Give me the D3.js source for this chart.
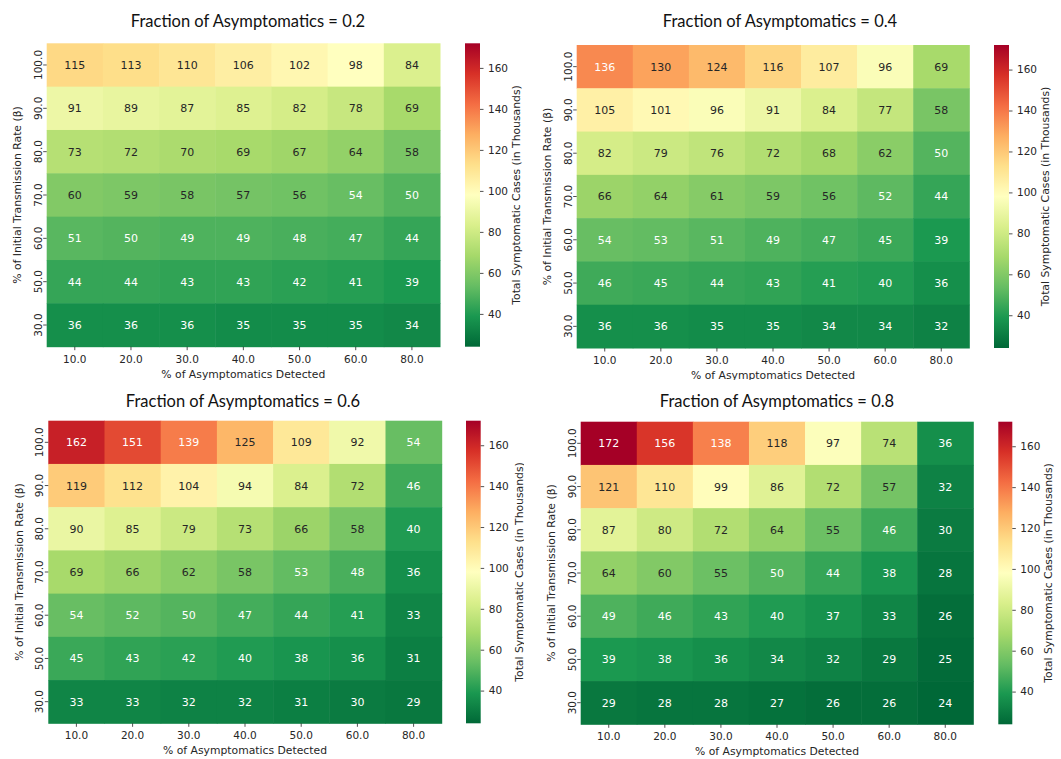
<!DOCTYPE html>
<html>
<head>
<meta charset="utf-8">
<script src="https://cdn.jsdelivr.net/npm/d3@7"></script>
<style>
  html, body { margin: 0; padding: 0; background: #fff; }
  svg { display: block; }
</style>
</head>
<body>
<svg id="chart" width="1061" height="759"></svg>
<script>
// ---------------- DATA ----------------
const detectedLabels = ["10.0", "20.0", "30.0", "40.0", "50.0", "60.0", "80.0"];
const transmissionLabels = ["100.0", "90.0", "80.0", "70.0", "60.0", "50.0", "30.0"];
const fractions = ["0.2", "0.4", "0.6", "0.8"];
const colorbarTicks = [40, 60, 80, 100, 120, 140, 160];

// rows: transmission 100 -> 30, columns: detected 10 -> 80
const casesFrac02 = [
  [115, 113, 110, 106, 102, 98, 84],
  [91, 89, 87, 85, 82, 78, 69],
  [73, 72, 70, 69, 67, 64, 58],
  [60, 59, 58, 57, 56, 54, 50],
  [51, 50, 49, 49, 48, 47, 44],
  [44, 44, 43, 43, 42, 41, 39],
  [36, 36, 36, 35, 35, 35, 34]
];
const casesFrac04 = [
  [136, 130, 124, 116, 107, 96, 69],
  [105, 101, 96, 91, 84, 77, 58],
  [82, 79, 76, 72, 68, 62, 50],
  [66, 64, 61, 59, 56, 52, 44],
  [54, 53, 51, 49, 47, 45, 39],
  [46, 45, 44, 43, 41, 40, 36],
  [36, 36, 35, 35, 34, 34, 32]
];
const casesFrac06 = [
  [162, 151, 139, 125, 109, 92, 54],
  [119, 112, 104, 94, 84, 72, 46],
  [90, 85, 79, 73, 66, 58, 40],
  [69, 66, 62, 58, 53, 48, 36],
  [54, 52, 50, 47, 44, 41, 33],
  [45, 43, 42, 40, 38, 36, 31],
  [33, 33, 32, 32, 31, 30, 29]
];
const casesFrac08 = [
  [172, 156, 138, 118, 97, 74, 36],
  [121, 110, 99, 86, 72, 57, 32],
  [87, 80, 72, 64, 55, 46, 30],
  [64, 60, 55, 50, 44, 38, 28],
  [49, 46, 43, 40, 37, 33, 26],
  [39, 38, 36, 34, 32, 29, 25],
  [29, 28, 28, 27, 26, 26, 24]
];
const allCases = [casesFrac02, casesFrac04, casesFrac06, casesFrac08];

// ---------------- LAYOUT ----------------
const panelLayout = [
  {x0: 46.7, x1: 440.0, y0: 43.3, y1: 346.7, cb0: 465.0, cb1: 480.0, tx: 248, ty: 27.3, cbl: 40, clip: [0, 0, 530, 380]},
  {x0: 576.7, x1: 969.3, y0: 45.0, y1: 348.0, cb0: 994.0, cb1: 1009.0, tx: 780, ty: 26.5, cbl: 40, clip: [530, 0, 531, 380]},
  {x0: 48.3, x1: 441.7, y0: 420.7, y1: 723.3, cb0: 466.0, cb1: 480.7, tx: 243, ty: 407.3, cbl: 42, clip: [0, 380, 524, 379]},
  {x0: 580.7, x1: 973.3, y0: 421.7, y1: 724.3, cb0: 998.3, cb1: 1012.3, tx: 777, ty: 406.7, cbl: 40, clip: [530, 380, 531, 379]}
];

const textColor = "#262626";
const tickFont = "DejaVu Sans, sans-serif";
const titleFont = "Lato, 'Open Sans', sans-serif";
const tickSizePx = 10.5, labelSizePx = 10.8, annotSizePx = 11, titleSizePx = 16.5;

// ---------------- COLOR ----------------
const allVals = allCases.flat(2);
const vmin = d3.min(allVals), vmax = d3.max(allVals);
const rdylgn = ["#a50026","#d73027","#f46d43","#fdae61","#fee08b","#ffffbf","#d9ef8b","#a6d96a","#66bd63","#1a9850","#006837"];
const cmapColors = rdylgn.slice().reverse();
const color = d3.scaleLinear()
  .domain(d3.range(cmapColors.length).map(i => vmin + i * (vmax - vmin) / (cmapColors.length - 1)))
  .range(cmapColors)
  .interpolate(d3.interpolateRgb)
  .clamp(true);

function relLum(c) {
  const rgb = d3.rgb(c);
  const f = v => { v /= 255; return v <= 0.03928 ? v / 12.92 : Math.pow((v + 0.055) / 1.055, 2.4); };
  return 0.2126 * f(rgb.r) + 0.7152 * f(rgb.g) + 0.0722 * f(rgb.b);
}

const svg = d3.select("#chart");
const defs = svg.append("defs");

// gradient for colorbar
const grad = defs.append("linearGradient").attr("id", "cbgrad")
  .attr("x1", 0).attr("y1", 1).attr("x2", 0).attr("y2", 0);
d3.range(0, 1.0001, 0.02).forEach(t => {
  grad.append("stop").attr("offset", t).attr("stop-color", color(vmin + t * (vmax - vmin)));
});

allCases.forEach((data, pi) => {
  const L = panelLayout[pi];
  defs.append("clipPath").attr("id", "clip" + pi)
    .append("rect").attr("x", L.clip[0]).attr("y", L.clip[1]).attr("width", L.clip[2]).attr("height", L.clip[3]);
  const g = svg.append("g").attr("clip-path", `url(#clip${pi})`);

  const x = d3.scaleBand().domain(detectedLabels).range([L.x0, L.x1]);
  const y = d3.scaleBand().domain(transmissionLabels).range([L.y0, L.y1]);

  const cells = [];
  data.forEach((row, ri) => row.forEach((v, ci) => cells.push({r: transmissionLabels[ri], c: detectedLabels[ci], v})));

  g.selectAll("rect.cell").data(cells).join("rect")
    .attr("class", "cell")
    .attr("x", d => x(d.c)).attr("y", d => y(d.r))
    .attr("width", x.bandwidth() + 0.5).attr("height", y.bandwidth() + 0.5)
    .attr("fill", d => color(d.v));

  g.selectAll("text.annot").data(cells).join("text")
    .attr("class", "annot")
    .attr("x", d => x(d.c) + x.bandwidth() / 2)
    .attr("y", d => y(d.r) + y.bandwidth() / 2)
    .attr("dy", "0.36em")
    .attr("text-anchor", "middle")
    .attr("font-family", tickFont).attr("font-size", annotSizePx)
    .attr("fill", d => relLum(color(d.v)) > 0.408 ? textColor : "#ffffff")
    .text(d => d.v);

  // x axis
  const xAxis = g.append("g").attr("transform", `translate(0,${L.y1})`)
    .call(d3.axisBottom(x).tickSize(3.5).tickPadding(5));
  xAxis.select(".domain").remove();
  xAxis.selectAll("line").attr("stroke", textColor).attr("stroke-width", 0.8);
  xAxis.selectAll("text").attr("font-family", tickFont).attr("font-size", tickSizePx).attr("fill", textColor);

  // y axis
  const yAxis = g.append("g").attr("transform", `translate(${L.x0},0)`)
    .call(d3.axisLeft(y).tickSize(3.5).tickFormat(""));
  yAxis.select(".domain").remove();
  yAxis.selectAll("line").attr("stroke", textColor).attr("stroke-width", 0.8);
  g.selectAll("text.ytick").data(transmissionLabels).join("text")
    .attr("class", "ytick")
    .attr("transform", d => `translate(${L.x0 - 5},${y(d) + y.bandwidth() / 2}) rotate(-90)`)
    .attr("text-anchor", "middle")
    .attr("font-family", tickFont).attr("font-size", tickSizePx).attr("fill", textColor)
    .text(d => d);

  // axis labels
  g.append("text")
    .attr("x", (L.x0 + L.x1) / 2).attr("y", L.y1 + 31)
    .attr("text-anchor", "middle")
    .attr("font-family", tickFont).attr("font-size", labelSizePx).attr("fill", textColor)
    .text("% of Asymptomatics Detected");
  g.append("text")
    .attr("transform", `translate(${L.x0 - 25.5},${(L.y0 + L.y1) / 2}) rotate(-90)`)
    .attr("text-anchor", "middle")
    .attr("font-family", tickFont).attr("font-size", labelSizePx).attr("fill", textColor)
    .text("% of Initial Transmission Rate (β)");

  // title
  g.append("text")
    .attr("x", L.tx).attr("y", L.ty)
    .attr("text-anchor", "middle")
    .attr("font-family", titleFont).attr("font-size", titleSizePx).attr("fill", "#111")
    .text("Fraction of Asymptomatics = " + fractions[pi]);

  // colorbar
  g.append("rect")
    .attr("x", L.cb0).attr("y", L.y0).attr("width", L.cb1 - L.cb0).attr("height", L.y1 - L.y0)
    .attr("fill", "url(#cbgrad)");
  const cy = d3.scaleLinear().domain([vmin, vmax]).range([L.y1, L.y0]);
  const cAxis = g.append("g").attr("transform", `translate(${L.cb1},0)`)
    .call(d3.axisRight(cy).tickValues(colorbarTicks).tickSize(3.5).tickPadding(4.5));
  cAxis.select(".domain").remove();
  cAxis.selectAll("line").attr("stroke", textColor).attr("stroke-width", 0.8);
  cAxis.selectAll("text").attr("font-family", tickFont).attr("font-size", tickSizePx).attr("fill", textColor);
  g.append("text")
    .attr("transform", `translate(${L.cb1 + L.cbl},${(L.y0 + L.y1) / 2}) rotate(-90)`)
    .attr("text-anchor", "middle")
    .attr("font-family", tickFont).attr("font-size", labelSizePx).attr("fill", textColor)
    .text("Total Symptomatic Cases (in Thousands)");
});
</script>
</body>
</html>
